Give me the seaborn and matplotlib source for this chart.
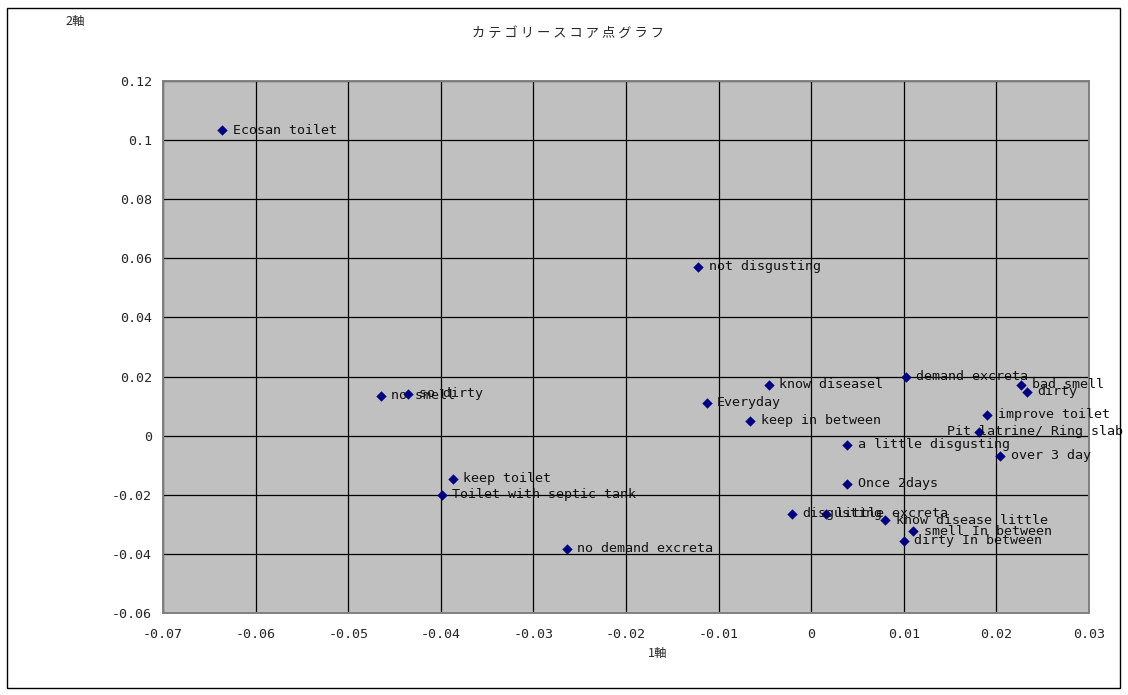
import numpy as np
import pandas as pd
import matplotlib
matplotlib.use("Agg")
import matplotlib.pyplot as plt
import seaborn as sns
from matplotlib.patches import Rectangle

# category score data
labels = ["Ecosan toilet", "not disgusting", "no smell", "so dirty", "keep toilet",
          "Toilet with septic tank", "no demand excreta", "know diseasel", "Everyday",
          "keep in between", "demand excreta", "bad smell", "dirty", "improve toilet",
          "Pit latrine/ Ring slab", "a little disgusting", "over 3 day", "Once 2days",
          "disgusting", "little excreta", "know disease little", "smell In between",
          "dirty In between"]
axis1 = [-0.0636, -0.0122, -0.0465, -0.0435, -0.0387, -0.0399, -0.0264, -0.0046, -0.0113,
         -0.0066, 0.0102, 0.0227, 0.0233, 0.0190, 0.0181, 0.0039, 0.0204, 0.0039,
         -0.0021, 0.0016, 0.0080, 0.0110, 0.0100]
axis2 = [0.1034, 0.0571, 0.0135, 0.0142, -0.0145, -0.0200, -0.0382, 0.0172, 0.0112,
         0.0051, 0.0200, 0.0172, 0.0149, 0.0071, 0.0014, -0.0030, -0.0068, -0.0162,
         -0.0264, -0.0264, -0.0287, -0.0324, -0.0355]
xtick_labels = ["-0.07", "-0.06", "-0.05", "-0.04", "-0.03", "-0.02", "-0.01", "0",
                "0.01", "0.02", "0.03"]
ytick_labels = ["-0.06", "-0.04", "-0.02", "0", "0.02", "0.04", "0.06", "0.08",
                "0.1", "0.12"]

df = pd.DataFrame({"label": labels, "x": axis1, "y": axis2})

sns.set_style("white")
plt.rcParams['font.family'] = ['DejaVu Sans Mono', 'Noto Sans CJK JP', 'DejaVu Sans']
cjk = ['Noto Sans CJK JP', 'DejaVu Sans']

fig = plt.figure(figsize=(11.28, 6.95), dpi=100)
ax = fig.add_axes([0.1445, 0.118, 0.821, 0.7655])
ax.set_facecolor("#C0C0C0")

sns.scatterplot(data=df, x="x", y="y", marker="D", s=28, color="#000080",
                edgecolor="#000080", linewidth=0, ax=ax, zorder=3)

for _, r in df.iterrows():
    dx = -23 if r["label"].startswith("Pit") else 7.5
    ax.annotate(r["label"], (r["x"], r["y"]), xytext=(dx, 0), textcoords="offset points",
                va="center", ha="left", fontsize=9.6, color="#111111", zorder=4)

ax.set_xlim(-0.07, 0.03)
ax.set_ylim(-0.06, 0.12)
ax.set_xticks(np.linspace(-0.07, 0.03, len(xtick_labels)))
ax.set_yticks(np.linspace(-0.06, 0.12, len(ytick_labels)))
ax.set_xticklabels(xtick_labels)
ax.set_yticklabels(ytick_labels)
ax.grid(True, color="black", linewidth=0.9)
ax.set_axisbelow(True)
ax.tick_params(axis="x", labelsize=9.6, length=0, pad=11)
ax.tick_params(axis="y", labelsize=9.6, length=0, pad=8)
for s in ax.spines.values():
    s.set_color("#808080")
    s.set_linewidth(1.4)

ax.set_xlabel("")
ax.set_ylabel("")
fig.text(658 / 1128, 1 - 653 / 695, "1軸", ha="center", va="center", fontsize=9,
         family=cjk)
fig.text(75 / 1128, 1 - 21 / 695, "2軸", ha="center", va="center", fontsize=9,
         family=cjk)
fig.text(568 / 1128, 1 - 33 / 695, " ".join("カテゴリースコア点グラフ"), ha="center",
         va="center", fontsize=9.5, family=cjk)

fig.patches.append(Rectangle((0.006, 0.01), 0.987, 0.978, transform=fig.transFigure,
                             fill=False, edgecolor="black", linewidth=1))

fig.savefig("out.png", dpi=100)
